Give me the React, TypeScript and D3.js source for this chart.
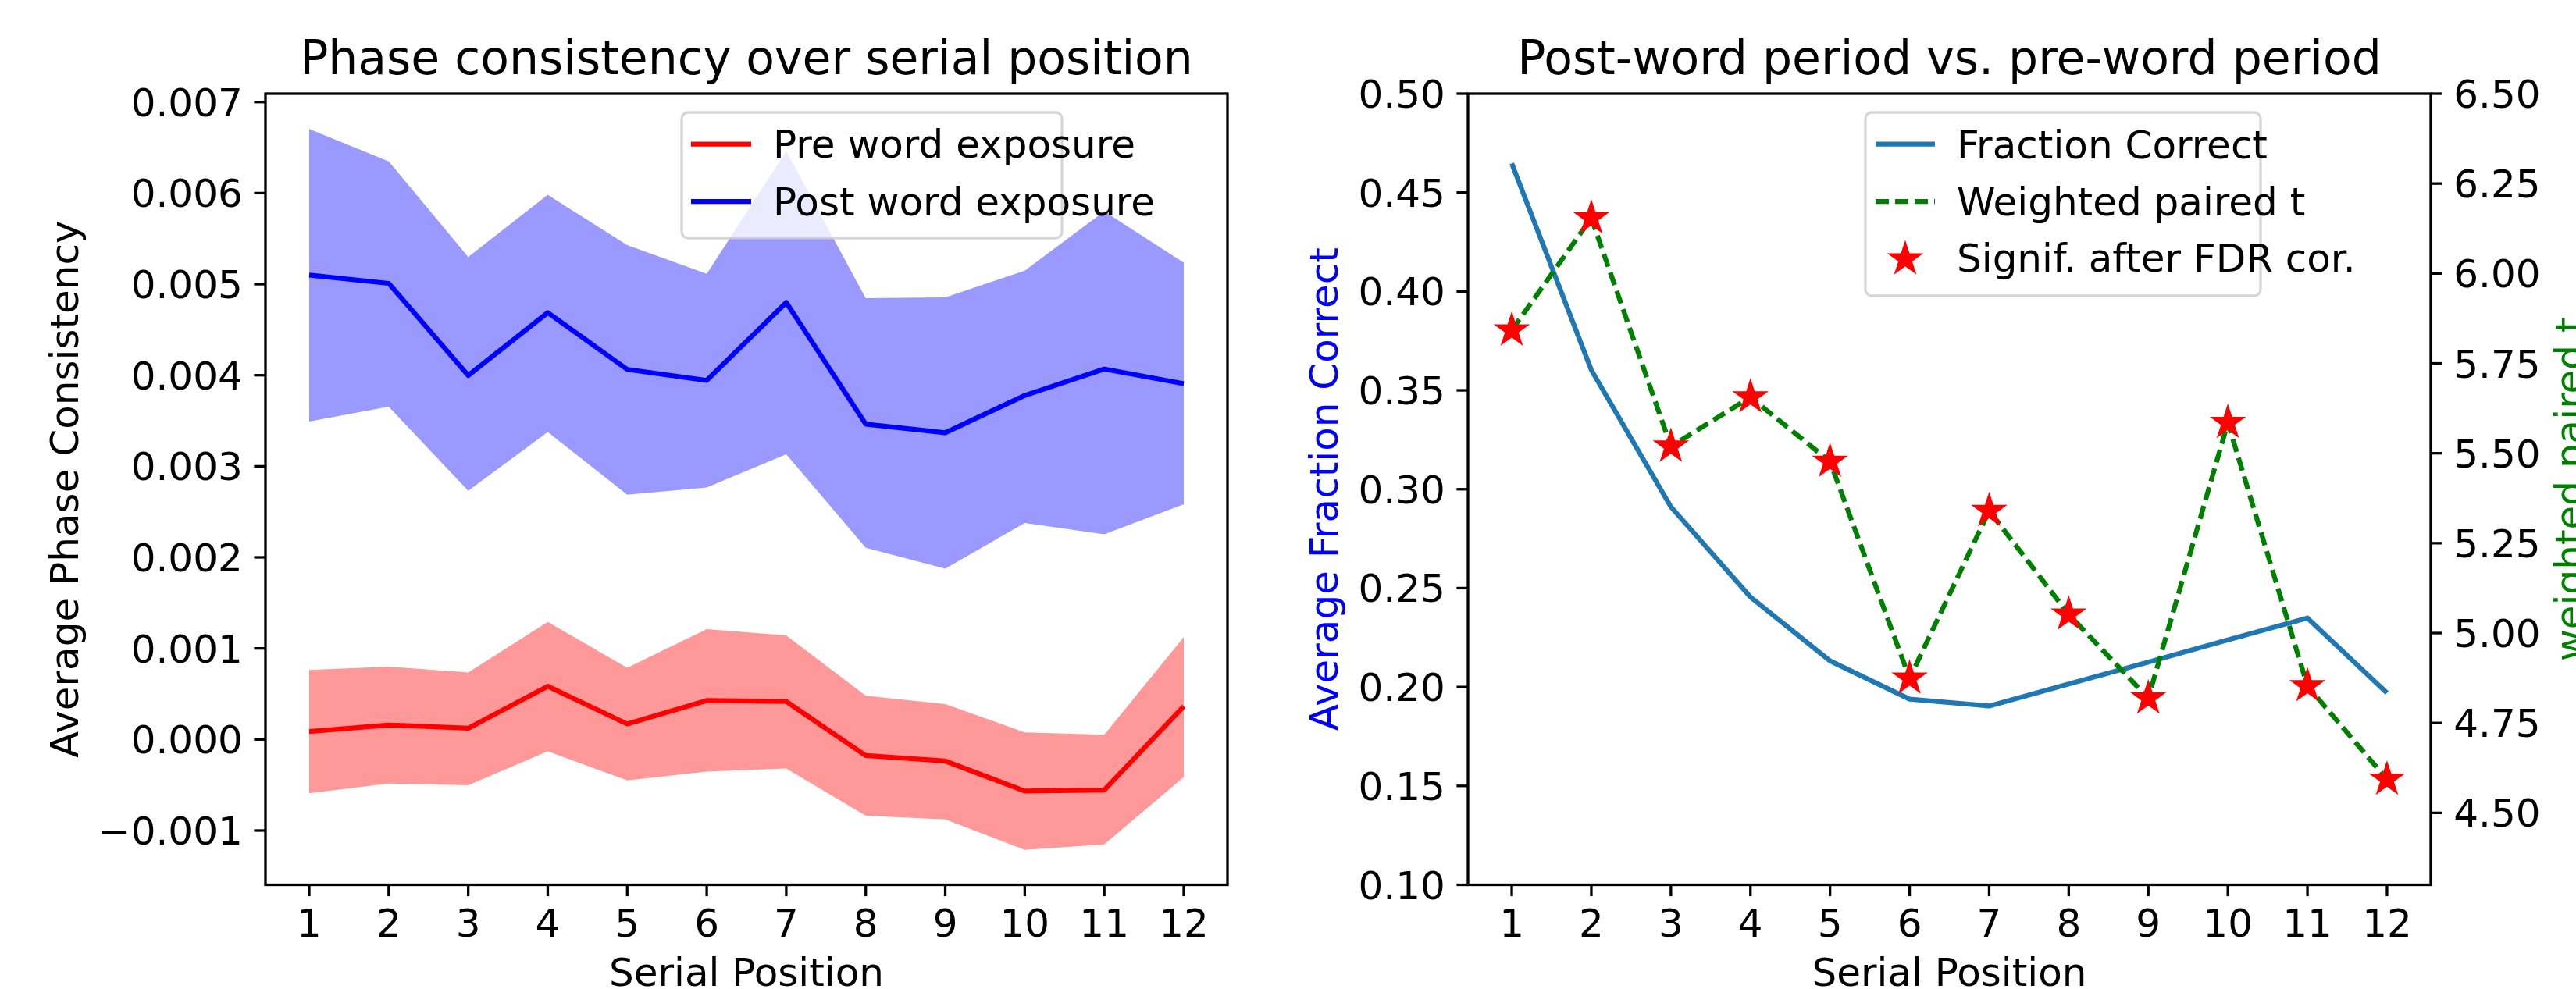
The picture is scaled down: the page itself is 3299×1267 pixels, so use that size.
import React from "react";
import * as d3 from "d3";

const serialPositions = [1, 2, 3, 4, 5, 6, 7, 8, 9, 10, 11, 12];

const preMean = [0.000088, 0.000159, 0.000123, 0.000584, 0.00017, 0.000428, 0.000417, -0.000177, -0.000237, -0.000566, -0.000555, 0.000364];
const preUpper = [0.000764, 0.000799, 0.000735, 0.00129, 0.000788, 0.001212, 0.001142, 0.000481, 0.000389, 0.000078, 0.000053, 0.001124];
const preLower = [-0.00059, -0.000484, -0.000502, -0.000131, -0.000449, -0.000354, -0.000319, -0.000838, -0.000877, -0.001213, -0.001153, -0.000414];

const postMean = [0.0051, 0.005009, 0.003998, 0.004687, 0.004064, 0.003943, 0.004799, 0.003463, 0.003368, 0.003778, 0.004068, 0.003907];
const postUpper = [0.006705, 0.006349, 0.005299, 0.005981, 0.005428, 0.005114, 0.00646, 0.004845, 0.004855, 0.005149, 0.0058, 0.005236];
const postLower = [0.003491, 0.003655, 0.00273, 0.003376, 0.002689, 0.002768, 0.003131, 0.002105, 0.001876, 0.002378, 0.002254, 0.002583];

const fractionCorrect = [0.4647, 0.3603, 0.2911, 0.2455, 0.2132, 0.1939, 0.1904, 0.2015, 0.2126, 0.2238, 0.2349, 0.197];
const weightedT = [5.842, 6.154, 5.519, 5.656, 5.477, 4.874, 5.34, 5.052, 4.819, 5.585, 4.853, 4.593];

const leftYTicks = [-0.001, 0, 0.001, 0.002, 0.003, 0.004, 0.005, 0.006, 0.007];
const fracTicks = [0.1, 0.15, 0.2, 0.25, 0.3, 0.35, 0.4, 0.45, 0.5];
const tTicks = [4.5, 4.75, 5.0, 5.25, 5.5, 5.75, 6.0, 6.25, 6.5];

const FONT = "DejaVu Sans";
const TICK = 14.6;
const PAD = 14.6;
const SPINE = 3.3;

const top = 120;
const bottom = 1133.5;
const L1 = 340, R1 = 1572;
const L2 = 1880, R2 = 3113;

function starPath(cx: number, cy: number, R: number) {
  const r = R * 0.381966;
  const pts: string[] = [];
  for (let i = 0; i < 10; i++) {
    const ang = -Math.PI / 2 + (i * Math.PI) / 5;
    const rad = i % 2 === 0 ? R : r;
    pts.push(`${(cx + rad * Math.cos(ang)).toFixed(2)},${(cy + rad * Math.sin(ang)).toFixed(2)}`);
  }
  return "M" + pts.join("L") + "Z";
}

function fmtMinus(s: string) {
  return s.replace("-", "\u2212");
}

export default function App() {
  const x1 = d3.scaleLinear().domain([0.45, 12.55]).range([L1, R1]);
  const x2 = d3.scaleLinear().domain([0.45, 12.55]).range([L2, R2]);
  const y1 = d3.scaleLinear().domain([-0.001596, 0.007092]).range([bottom, top]);
  const yF = d3.scaleLinear().domain([0.1, 0.5]).range([bottom, top]);
  const yT = d3.scaleLinear().domain([4.3, 6.5]).range([bottom, top]);

  const area1 = (up: number[], lo: number[]) =>
    d3
      .area<number>()
      .x((d) => x1(d))
      .y0((_, i) => y1(lo[i]))
      .y1((_, i) => y1(up[i]))(serialPositions) || "";
  const line1 = (vals: number[]) =>
    d3
      .line<number>()
      .x((d) => x1(d))
      .y((_, i) => y1(vals[i]))(serialPositions) || "";
  const fracLine =
    d3
      .line<number>()
      .x((d) => x2(d))
      .y((_, i) => yF(fractionCorrect[i]))(serialPositions) || "";
  const tLine =
    d3
      .line<number>()
      .x((d) => x2(d))
      .y((_, i) => yT(weightedT[i]))(serialPositions) || "";

  const fmt3 = d3.format(".3f");
  const fmt2 = d3.format(".2f");

  const xAxis = (xs: d3.ScaleLinear<number, number>) => (
    <g>
      {serialPositions.map((p) => (
        <g key={p}>
          <line x1={xs(p)} x2={xs(p)} y1={bottom} y2={bottom + TICK} stroke="#000" strokeWidth={SPINE} />
          <text x={xs(p)} y={bottom + TICK + PAD + 37} textAnchor="middle" fontSize={50} fontFamily={FONT}>
            {p}
          </text>
        </g>
      ))}
    </g>
  );

  return (
    <svg
      width={3299}
      height={1267}
      style={{ position: "fixed", left: 0, top: 0, background: "#fff" }}
      xmlns="http://www.w3.org/2000/svg"
    >
      <rect x={0} y={0} width={3299} height={1267} fill="#fff" />

      {/* ---------- Left panel ---------- */}
      <defs>
        <clipPath id="c1">
          <rect x={L1} y={top} width={R1 - L1} height={bottom - top} />
        </clipPath>
        <clipPath id="c2">
          <rect x={L2} y={top} width={R2 - L2} height={bottom - top} />
        </clipPath>
      </defs>
      <g clipPath="url(#c1)">
        <path d={area1(postUpper, postLower)} fill="#0000ff" fillOpacity={0.4} />
        <path d={line1(postMean)} fill="none" stroke="#0000ff" strokeWidth={6.25} strokeLinejoin="round" />
        <path d={area1(preUpper, preLower)} fill="#ff0000" fillOpacity={0.4} />
        <path d={line1(preMean)} fill="none" stroke="#ff0000" strokeWidth={6.25} strokeLinejoin="round" />
      </g>
      <rect x={L1} y={top} width={R1 - L1} height={bottom - top} fill="none" stroke="#000" strokeWidth={SPINE} />
      {leftYTicks.map((t) => (
        <g key={t}>
          <line x1={L1 - TICK} x2={L1} y1={y1(t)} y2={y1(t)} stroke="#000" strokeWidth={SPINE} />
          <text x={L1 - TICK - PAD} y={y1(t)} dy="0.36em" textAnchor="end" fontSize={50} fontFamily={FONT}>
            {fmtMinus(fmt3(t))}
          </text>
        </g>
      ))}
      {xAxis(x1)}
      <text x={(L1 + R1) / 2} y={95} textAnchor="middle" fontSize={60} fontFamily={FONT}>
        Phase consistency over serial position
      </text>
      <text x={(L1 + R1) / 2} y={1263} textAnchor="middle" fontSize={50} fontFamily={FONT}>
        Serial Position
      </text>
      <text transform={`translate(100,${(top + bottom) / 2}) rotate(-90)`} textAnchor="middle" fontSize={50} fontFamily={FONT}>
        Average Phase Consistency
      </text>
      {/* legend left */}
      <rect x={873} y={144} width={487} height={161} rx={8} fill="#fff" fillOpacity={0.8} stroke="#cccccc" strokeOpacity={0.8} strokeWidth={3.3} />
      <line x1={885} x2={962} y1={184.7} y2={184.7} stroke="#ff0000" strokeWidth={6.25} />
      <text x={990} y={202.3} fontSize={50} fontFamily={FONT}>Pre word exposure</text>
      <line x1={885} x2={962} y1={258} y2={258} stroke="#0000ff" strokeWidth={6.25} />
      <text x={990} y={275.7} fontSize={50} fontFamily={FONT}>Post word exposure</text>

      {/* ---------- Right panel ---------- */}
      <g clipPath="url(#c2)">
        <path d={fracLine} fill="none" stroke="#1f77b4" strokeWidth={6.25} strokeLinejoin="round" />
        <path d={tLine} fill="none" stroke="#008000" strokeWidth={6.25} strokeDasharray="17 8" />
        {serialPositions.map((p, i) => (
          <path key={p} d={starPath(x2(p), yT(weightedT[i]), 18)} fill="#ff0000" stroke="#ff0000" strokeWidth={4} strokeLinejoin="miter" />
        ))}
      </g>
      <rect x={L2} y={top} width={R2 - L2} height={bottom - top} fill="none" stroke="#000" strokeWidth={SPINE} />
      {fracTicks.map((t) => (
        <g key={t}>
          <line x1={L2 - TICK} x2={L2} y1={yF(t)} y2={yF(t)} stroke="#000" strokeWidth={SPINE} />
          <text x={L2 - TICK - PAD} y={yF(t)} dy="0.36em" textAnchor="end" fontSize={50} fontFamily={FONT}>
            {fmt2(t)}
          </text>
        </g>
      ))}
      {tTicks.map((t) => (
        <g key={t}>
          <line x1={R2} x2={R2 + TICK} y1={yT(t)} y2={yT(t)} stroke="#000" strokeWidth={SPINE} />
          <text x={R2 + TICK + PAD} y={yT(t)} dy="0.36em" textAnchor="start" fontSize={50} fontFamily={FONT}>
            {fmt2(t)}
          </text>
        </g>
      ))}
      {xAxis(x2)}
      <text x={(L2 + R2) / 2} y={95} textAnchor="middle" fontSize={60} fontFamily={FONT}>
        Post-word period vs. pre-word period
      </text>
      <text x={(L2 + R2) / 2} y={1263} textAnchor="middle" fontSize={50} fontFamily={FONT}>
        Serial Position
      </text>
      <text transform={`translate(1713,${(top + bottom) / 2}) rotate(-90)`} textAnchor="middle" fontSize={50} fontFamily={FONT} fill="#0000ff">
        Average Fraction Correct
      </text>
      <text transform={`translate(3308,${(top + bottom) / 2}) rotate(-90)`} textAnchor="middle" fontSize={50} fontFamily={FONT} fill="#008000">
        weighted paired t
      </text>
      {/* legend right */}
      <rect x={2389} y={144} width={506} height={235} rx={8} fill="#fff" fillOpacity={0.8} stroke="#cccccc" strokeOpacity={0.8} strokeWidth={3.3} />
      <line x1={2402} x2={2478} y1={184.7} y2={184.7} stroke="#1f77b4" strokeWidth={6.25} />
      <text x={2506} y={203.3} fontSize={50} fontFamily={FONT}>Fraction Correct</text>
      <line x1={2402} x2={2478} y1={258} y2={258} stroke="#008000" strokeWidth={6.25} strokeDasharray="17 8" />
      <text x={2506} y={276} fontSize={50} fontFamily={FONT}>Weighted paired t</text>
      <path d={starPath(2440, 332, 18)} fill="#ff0000" stroke="#ff0000" strokeWidth={4} />
      <text x={2506} y={348.3} fontSize={50} fontFamily={FONT}>Signif. after FDR cor.</text>
    </svg>
  );
}
